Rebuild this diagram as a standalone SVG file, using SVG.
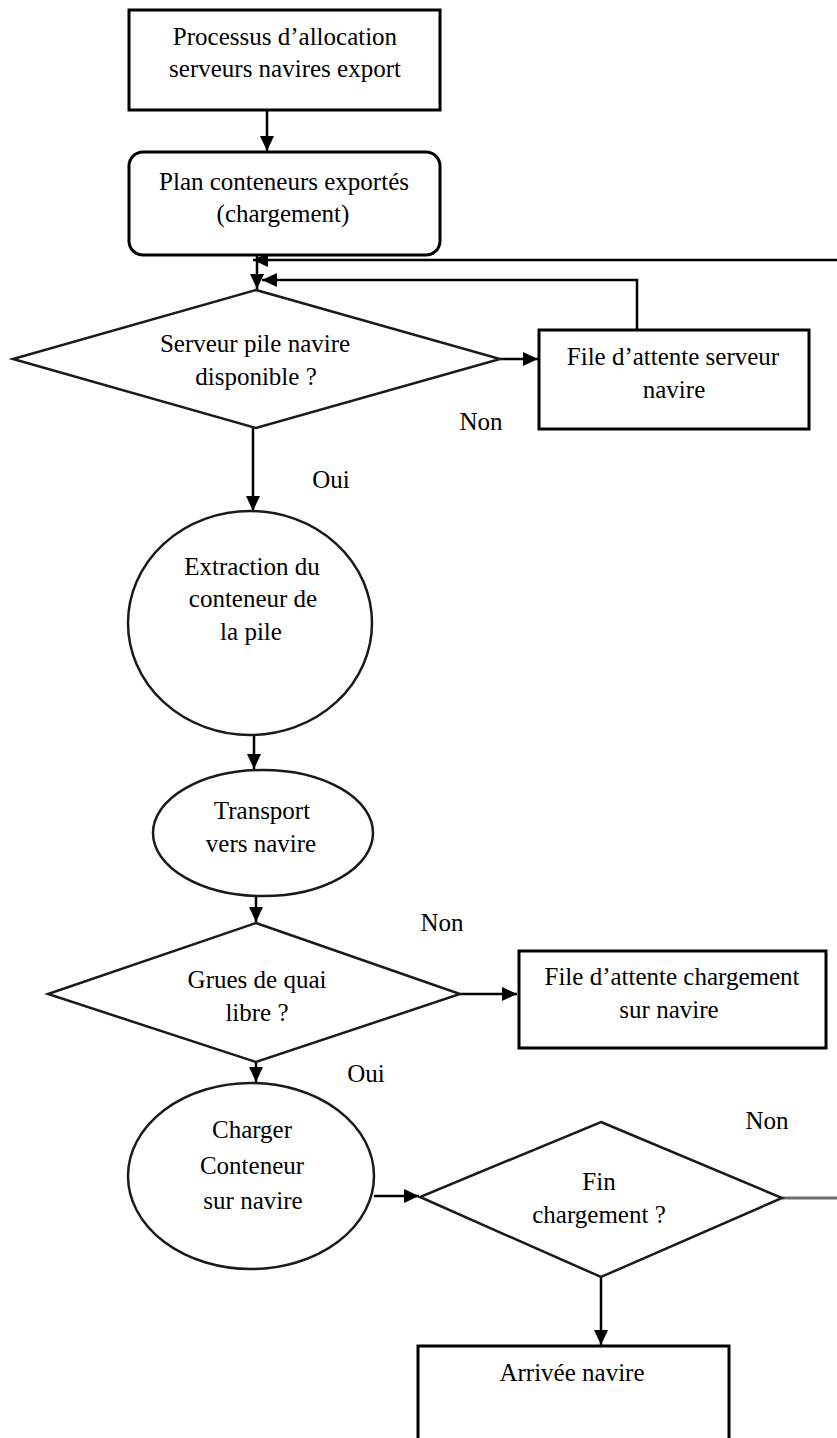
<svg xmlns="http://www.w3.org/2000/svg" width="837" height="1438" viewBox="0 0 837 1438">
  <style>
    .box { fill: #ffffff; stroke: #000000; stroke-width: 3; }
    .shape { fill: #ffffff; stroke: #1a1a1a; stroke-width: 2.5; }
    .lbl { font-family: "Liberation Serif", "Times New Roman", serif; font-size: 25px; fill: #000000; text-anchor: middle; }
    .link { fill: none; stroke: #000000; stroke-width: 2.5; }
    .grey { stroke: #6e6e6e; stroke-width: 3; }
  </style>
  <defs>
    <marker id="arrow" markerUnits="userSpaceOnUse" markerWidth="15" markerHeight="14" refX="15" refY="7" orient="auto">
      <path d="M0,0 L15,7 L0,14 z" fill="#000000"/>
    </marker>
  </defs>

  <rect width="837" height="1438" fill="#ffffff"/>

  <!-- connectors -->
  <g id="connectors">
    <line class="link" x1="267" y1="110" x2="267" y2="151" marker-end="url(#arrow)"/>
    <line class="link" x1="257" y1="255" x2="257" y2="289" marker-end="url(#arrow)"/>
    <polyline class="link" points="837,260 253,260" marker-end="url(#arrow)"/>
    <polyline class="link" points="637,330 637,280 262,280" marker-end="url(#arrow)"/>
    <line class="link" x1="500" y1="359" x2="538" y2="359" marker-end="url(#arrow)"/>
    <line class="link" x1="253" y1="428" x2="253" y2="511" marker-end="url(#arrow)"/>
    <line class="link" x1="254" y1="735" x2="254" y2="769" marker-end="url(#arrow)"/>
    <line class="link" x1="256" y1="897" x2="256" y2="922" marker-end="url(#arrow)"/>
    <line class="link" x1="460" y1="994" x2="517" y2="994" marker-end="url(#arrow)"/>
    <line class="link" x1="256" y1="1062" x2="256" y2="1082" marker-end="url(#arrow)"/>
    <line class="link" x1="374" y1="1196" x2="419" y2="1196" marker-end="url(#arrow)"/>
    <line class="link grey" x1="782" y1="1198" x2="837" y2="1198"/>
    <line class="link" x1="601" y1="1277" x2="601" y2="1345" marker-end="url(#arrow)"/>
  </g>

  <!-- flow labels -->
  <g id="labels">
    <text class="lbl" x="481" y="430">Non</text>
    <text class="lbl" x="331" y="488">Oui</text>
    <text class="lbl" x="442" y="931">Non</text>
    <text class="lbl" x="366" y="1082">Oui</text>
    <text class="lbl" x="767" y="1129">Non</text>
  </g>

  <g id="node-process">
    <rect class="box" x="129" y="10" width="311" height="100"/>
    <text class="lbl" x="285" y="45">Processus d’allocation</text>
    <text class="lbl" x="285" y="77">serveurs navires export</text>
  </g>

  <g id="node-plan">
    <rect class="box" x="129" y="152" width="311" height="103" rx="14" ry="14"/>
    <text class="lbl" x="284" y="190">Plan conteneurs exportés</text>
    <text class="lbl" x="283" y="222">(chargement)</text>
  </g>

  <g id="node-server-check">
    <polygon class="shape" points="256,290 500,359 256,428 13,359"/>
    <text class="lbl" x="255" y="352">Serveur pile navire</text>
    <text class="lbl" x="256" y="385">disponible  ?</text>
  </g>

  <g id="node-server-queue">
    <rect class="box" x="539" y="330" width="270" height="99"/>
    <text class="lbl" x="673" y="365">File d’attente serveur</text>
    <text class="lbl" x="674" y="398">navire</text>
  </g>

  <g id="node-extraction">
    <ellipse class="shape" cx="250" cy="623" rx="122" ry="112"/>
    <text class="lbl" x="252" y="575">Extraction du</text>
    <text class="lbl" x="253" y="607">conteneur de</text>
    <text class="lbl" x="251" y="640">la pile</text>
  </g>

  <g id="node-transport">
    <ellipse class="shape" cx="263" cy="833" rx="110" ry="63"/>
    <text class="lbl" x="262" y="819">Transport</text>
    <text class="lbl" x="261" y="852">vers navire</text>
  </g>

  <g id="node-crane-check">
    <polygon class="shape" points="256,923 460,994 256,1062 48,994"/>
    <text class="lbl" x="257" y="988">Grues de quai</text>
    <text class="lbl" x="257" y="1021">libre ?</text>
  </g>

  <g id="node-loading-queue">
    <rect class="box" x="519" y="951" width="307" height="97"/>
    <text class="lbl" x="672" y="985">File d’attente chargement</text>
    <text class="lbl" x="669" y="1018">sur navire</text>
  </g>

  <g id="node-load">
    <ellipse class="shape" cx="251" cy="1176" rx="123" ry="93"/>
    <text class="lbl" x="252" y="1138">Charger</text>
    <text class="lbl" x="252" y="1174">Conteneur</text>
    <text class="lbl" x="253" y="1209">sur navire</text>
  </g>

  <g id="node-end-check">
    <polygon class="shape" points="601,1122 782,1198 601,1277 420,1197"/>
    <text class="lbl" x="599" y="1190">Fin</text>
    <text class="lbl" x="599" y="1223">chargement ?</text>
  </g>

  <g id="node-arrival">
    <rect class="box" x="418" y="1346" width="311" height="110"/>
    <text class="lbl" x="572" y="1381">Arrivée navire</text>
  </g>
</svg>
